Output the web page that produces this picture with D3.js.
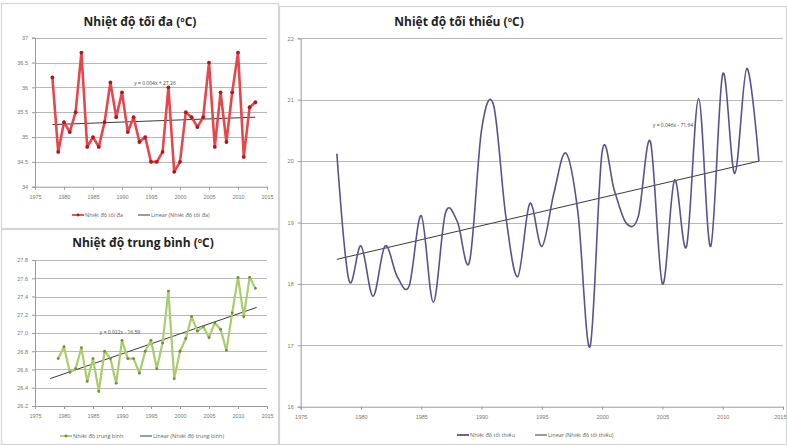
<!DOCTYPE html>
<html><head><meta charset="utf-8">
<script src="https://cdn.jsdelivr.net/npm/d3@7"></script>
<style>
body{margin:0;background:#fff;}
svg{display:block;font-family:"Open Sans","Liberation Sans",sans-serif;}
</style></head>
<body><svg id="c" width="787" height="445"></svg>
<script>
// ---------- DATA ----------
const yearsMax = d3.range(1978, 2014);
const valuesMax = [36.2,34.7,35.3,35.1,35.5,36.7,34.8,35.0,34.8,35.3,36.1,35.4,35.9,35.1,35.4,34.9,35.0,34.5,34.5,34.7,36.0,34.3,34.5,35.5,35.4,35.2,35.4,36.5,34.8,35.9,34.9,35.9,36.7,34.6,35.6,35.7];
const trendMaxYears = [1978, 2013];
const trendMaxValues = [35.25, 35.40];
const ticksMaxY = [34,34.5,35,35.5,36,36.5,37];

const yearsMean = d3.range(1979, 2014);
const valuesMean = [26.72,26.85,26.57,26.61,26.84,26.47,26.72,26.36,26.80,26.72,26.45,26.92,26.72,26.72,26.56,26.80,26.92,26.61,26.89,27.46,26.50,26.80,26.94,27.18,27.02,27.07,26.95,27.11,27.04,26.81,27.22,27.61,27.18,27.61,27.49];
const trendMeanYears = [1977.6, 2013.2];
const trendMeanValues = [26.50, 27.28];
const ticksMeanY = [26.2,26.4,26.6,26.8,27.0,27.2,27.4,27.6,27.8];

const yearsMin = d3.range(1978, 2014);
const valuesMin = [20.12,18.06,18.62,17.80,18.62,18.12,17.97,19.11,17.70,19.15,19.01,18.36,20.51,20.91,19.12,18.12,19.31,18.61,19.48,20.13,19.15,16.98,20.15,19.53,18.99,19.10,20.32,18.00,19.69,18.61,21.02,18.61,21.42,19.80,21.51,20.00];
const trendMinYears = [1978, 2013];
const trendMinValues = [18.40, 20.00];
const ticksMinY = [16,17,18,19,20,21,22];

const ticksX = [1975,1980,1985,1990,1995,2000,2005,2010,2015];

// ---------- DRAW ----------
const svg = d3.select("#c");

// panel borders
[[1,3,277,225],[1,229,277,215],[279,6,507,438]].forEach(r=>{
  svg.append("rect").attr("x",r[0]+0.5).attr("y",r[1]+0.5).attr("width",r[2]).attr("height",r[3])
    .attr("fill","#fff").attr("stroke","#d4d4d4").attr("stroke-width",1.2);
});

function panel(cfg){
  const g = svg.append("g");
  const x = d3.scaleLinear().domain([1975,2015]).range([cfg.x0,cfg.x1]);
  const y = d3.scaleLinear().domain(cfg.yDomain).range([cfg.y1,cfg.y0]);
  // grid
  g.selectAll(".grid").data(cfg.yTicks.slice(1)).enter().append("line")
    .attr("x1",cfg.x0).attr("x2",cfg.x1).attr("y1",d=>Math.round(y(d))+0.5).attr("y2",d=>Math.round(y(d))+0.5)
    .attr("stroke","#b8b8b8").attr("stroke-width",1);
  // axes
  const ya = g.append("g").attr("transform",`translate(${cfg.x0},0)`)
    .call(d3.axisLeft(y).tickValues(cfg.yTicks).tickFormat(cfg.yFmt).tickSize(3).tickPadding(4));
  const xa = g.append("g").attr("transform",`translate(0,${cfg.y1})`)
    .call(d3.axisBottom(x).tickValues(ticksX).tickFormat(d3.format("d")).tickSize(3).tickPadding(5));
  [ya,xa].forEach(a=>{
    a.select(".domain").attr("stroke","#9a9a9a");
    a.selectAll(".tick line").attr("stroke","#9a9a9a");
    a.selectAll("text").attr("fill","#777").style("font-size","5.5px");
  });
  if(cfg.lastEnd){
    xa.selectAll(".tick").filter(d=>d===2015).select("text").attr("text-anchor","end").attr("dx",3);
  }
  // trend
  g.append("path").datum(cfg.trendYears.map((t,i)=>[t,cfg.trendValues[i]]))
    .attr("d",d3.line().x(d=>x(d[0])).y(d=>y(d[1])))
    .attr("stroke","#3a3a3a").attr("stroke-width",1).attr("fill","none");
  // series
  const pts = cfg.years.map((t,i)=>[t,cfg.values[i]]);
  g.append("path").datum(pts)
    .attr("d",d3.line().x(d=>x(d[0])).y(d=>y(d[1])).curve(cfg.curve||d3.curveLinear))
    .attr("stroke",cfg.color).attr("stroke-width",cfg.sw).attr("fill","none").attr("stroke-linejoin","round");
  if(cfg.marker){
    g.selectAll(".m").data(pts).enter().append("circle")
      .attr("cx",d=>x(d[0])).attr("cy",d=>y(d[1])).attr("r",cfg.mr).attr("fill",cfg.marker);
  }
  // title
  const t = g.append("text").attr("x",cfg.tx).attr("y",cfg.ty).attr("text-anchor","middle")
    .style("font-size","12px").style("font-weight","bold").attr("fill","#222");
  t.append("tspan").text(cfg.title+" (");
  t.append("tspan").text("o").style("font-size","7px").attr("dy",-4);
  t.append("tspan").text("C)").attr("dy",4);
  // trend label
  g.append("text").attr("x",cfg.lx).attr("y",cfg.ly).attr("text-anchor","middle")
    .style("font-size","5px").attr("fill","#444").text(cfg.eq);
  // legend
  const lg = g.append("g").style("font-size","5.5px").attr("fill","#666");
  lg.append("line").attr("x1",cfg.legX).attr("x2",cfg.legX+12).attr("y1",cfg.legY).attr("y2",cfg.legY)
    .attr("stroke",cfg.color).attr("stroke-width",cfg.sw>1.5?1.8:1.3);
  if(cfg.marker) lg.append("circle").attr("cx",cfg.legX+6).attr("cy",cfg.legY).attr("r",1.4).attr("fill",cfg.marker);
  lg.append("text").attr("x",cfg.legX+13).attr("y",cfg.legY+2).text(cfg.title);
  lg.append("line").attr("x1",cfg.leg2X).attr("x2",cfg.leg2X+12).attr("y1",cfg.legY).attr("y2",cfg.legY)
    .attr("stroke","#3a3a3a").attr("stroke-width",1);
  lg.append("text").attr("x",cfg.leg2X+13).attr("y",cfg.legY+2).text("Linear ("+cfg.title+")");
}

panel({x0:35,x1:267,y0:37.7,y1:186.7,yDomain:[34,37],yTicks:ticksMaxY,yFmt:d3.format("~g"),
  years:yearsMax,values:valuesMax,trendYears:trendMaxYears,trendValues:trendMaxValues,
  color:"#e5474d",sw:2.6,marker:"#b2161d",mr:1.9,
  title:"Nhiệt độ tối đa",tx:140,ty:26,eq:"y = 0.004x + 27.26",lx:155,ly:85,
  legX:72,leg2X:138,legY:215});

panel({x0:35,x1:267,y0:260,y1:406,yDomain:[26.2,27.8],yTicks:ticksMeanY,yFmt:d3.format(".1f"),
  years:yearsMean,values:valuesMean,trendYears:trendMeanYears,trendValues:trendMeanValues,
  color:"#a9cc6e",sw:2.2,marker:"#6f8f35",mr:1.4,
  title:"Nhiệt độ trung bình",tx:143,ty:247,eq:"y = 0.022x - 16.59",lx:120,ly:334,
  legX:60,leg2X:140,legY:436});

panel({x0:300.7,x1:783,y0:38.3,y1:406.7,yDomain:[16,22],yTicks:ticksMinY,yFmt:d3.format("d"),
  years:yearsMin,values:valuesMin,trendYears:trendMinYears,trendValues:trendMinValues,
  color:"#5e4f90",sw:1.6,marker:null,curve:d3.curveCardinal.tension(0),lastEnd:true,
  title:"Nhiệt độ tối thiểu",tx:459,ty:26,eq:"y = 0.046x - 71.64",lx:673,ly:127,
  legX:457,leg2X:535,legY:435});
</script></body></html>
